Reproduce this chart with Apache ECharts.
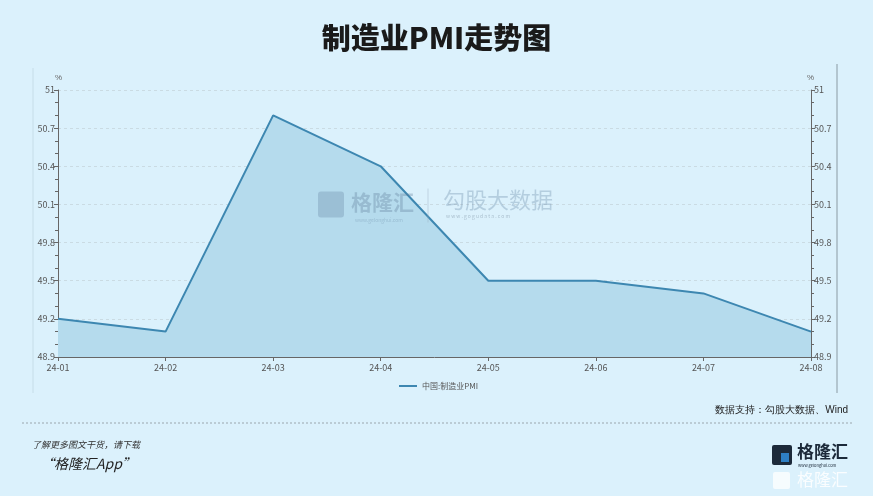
<!DOCTYPE html>
<html>
<head>
<meta charset="utf-8">
<script src="https://cdn.jsdelivr.net/npm/echarts@6/dist/echarts.min.js"></script>
<style>
html,body{margin:0;padding:0;background:#dbf1fc;}
#c{width:873px;height:496px;}
</style>
</head>
<body>
<div id="c"></div>
<script>
var categories = ['24-01','24-02','24-03','24-04','24-05','24-06','24-07','24-08'];
var pmiValues = [49.2, 49.1, 50.8, 50.4, 49.5, 49.5, 49.4, 49.1];
var seriesName = '中国:制造业PMI';
var chartTitle = '制造业PMI走势图';
var sourceText = '数据支持：勾股大数据、Wind';

var chart = echarts.init(document.getElementById('c'));
var font = '"Noto Sans CJK SC","Noto Sans",sans-serif';
var axisLabelStyle = {color:'#555', fontSize:9, fontFamily:font};
function yAxis(pos){
  return {
    type:'value', position:pos, min:48.9, max:51, interval:0.3,
    name:'%', nameGap:8, nameTextStyle:{color:'#666', fontSize:8, align: pos==='left'?'right':'left', padding: pos==='left'?[0,-4,0,0]:[0,0,0,-4]},
    axisLine:{show:true, lineStyle:{color:'#666', width:1}},
    axisTick:{show:true, length:4, lineStyle:{color:'#666'}},
    minorTick:{show:true, splitNumber:3, length:3, lineStyle:{color:'#666'}},
    axisLabel:{...axisLabelStyle, margin:3, formatter:function(v){return +v.toFixed(1)+'';}},
    splitLine:{show: pos==='left', lineStyle:{color:'#cadbe3', type:[3,3], width:1}}
  };
}
chart.setOption({
  backgroundColor:'#dbf1fc',
  title:{text:chartTitle, left:'center', top:18, textStyle:{fontSize:29, fontWeight:900, color:'#1a1a1a', fontFamily:font}},
  legend:{data:[seriesName], left:394, top:377, itemWidth:18, itemHeight:2, icon:'rect', textStyle:{fontSize:8, color:'#555', fontFamily:font}, itemGap:4},
  grid:{left:58, right:62, top:90, bottom:139},
  xAxis:{type:'category', data:categories, boundaryGap:false,
    axisLine:{lineStyle:{color:'#666'}},
    axisTick:{show:true, length:4, lineStyle:{color:'#666'}},
    axisLabel:{...axisLabelStyle, margin:6}},
  yAxis:[yAxis('left'), yAxis('right')],
  series:[{
    name:seriesName, type:'line', data:pmiValues, symbol:'none',
    lineStyle:{color:'#3d87b1', width:2},
    itemStyle:{color:'#3d87b1'},
    areaStyle:{color:'#b5dbed', opacity:1, origin:'start'}
  },{
    type:'line', yAxisIndex:1, data:[], silent:true
  }],
  graphic:[
    {type:'line', shape:{x1:33,y1:68,x2:33,y2:393}, style:{stroke:'#c6dde8', lineWidth:1}},
    {type:'line', shape:{x1:837,y1:64,x2:837,y2:393}, style:{stroke:'#8a9aa3', lineWidth:1}},
    {type:'line', shape:{x1:22,y1:423,x2:852,y2:423}, style:{stroke:'#9aa6ad', lineWidth:1, lineDash:[2,2]}},
    {type:'text', right:25, top:405, style:{text:sourceText, fontSize:10, fill:'#222', font:'10px '+font}},
    {type:'text', left:32, top:440, style:{text:'了解更多图文干货，请下载', fill:'#333', font:'italic 9px '+font}},
    {type:'text', left:40, top:457, style:{text:'“格隆汇App”', fill:'#222', font:'italic 14px '+font}},
    // watermark
    {type:'group', left:318, top:186, silent:true, z:100, children:[
      {type:'rect', z:100, shape:{x:0,y:3,width:26,height:26, r:3}, style:{fill:'rgba(90,120,150,0.28)'}},
      {type:'text', z:100, x:33, y:3, style:{text:'格隆汇', fill:'rgba(90,120,150,0.32)', font:'bold 21px '+font}},
      {type:'text', z:100, x:37, y:29, style:{text:'www.gelonghui.com', fill:'rgba(90,120,150,0.3)', font:'5px '+font}},
      {type:'line', z:100, shape:{x1:110,y1:0,x2:110,y2:34}, style:{stroke:'rgba(150,170,190,0.4)', lineWidth:1}},
      {type:'text', z:100, x:125, y:0, style:{text:'勾股大数据', fill:'rgba(110,140,170,0.35)', font:'22px '+font}},
      {type:'text', z:100, x:128, y:25, style:{text:'w w w . g o g u d a t a . c o m', fill:'rgba(110,130,150,0.45)', font:'5px '+font}}
    ]},
    // logo
    {type:'group', left:772, top:443, children:[
      {type:'rect', shape:{x:0,y:2,width:20,height:20, r:2}, style:{fill:'#1c2a3a'}},
      {type:'rect', shape:{x:9,y:10,width:8,height:9}, style:{fill:'#2e7fc4'}},
      {type:'text', x:25, y:0, style:{text:'格隆汇', fill:'#1c2a3a', font:'bold 17px '+font}},
      {type:'text', x:26, y:20, style:{text:'www.gelonghui.com', fill:'#1c2a3a', font:'4px '+font}},
      {type:'rect', shape:{x:1,y:29,width:17,height:17, r:2}, style:{fill:'rgba(255,255,255,0.75)'}},
      {type:'text', x:25, y:28, style:{text:'格隆汇', fill:'rgba(255,255,255,0.85)', font:'17px '+font}}
    ]}
  ]
});
</script>
</body>
</html>
